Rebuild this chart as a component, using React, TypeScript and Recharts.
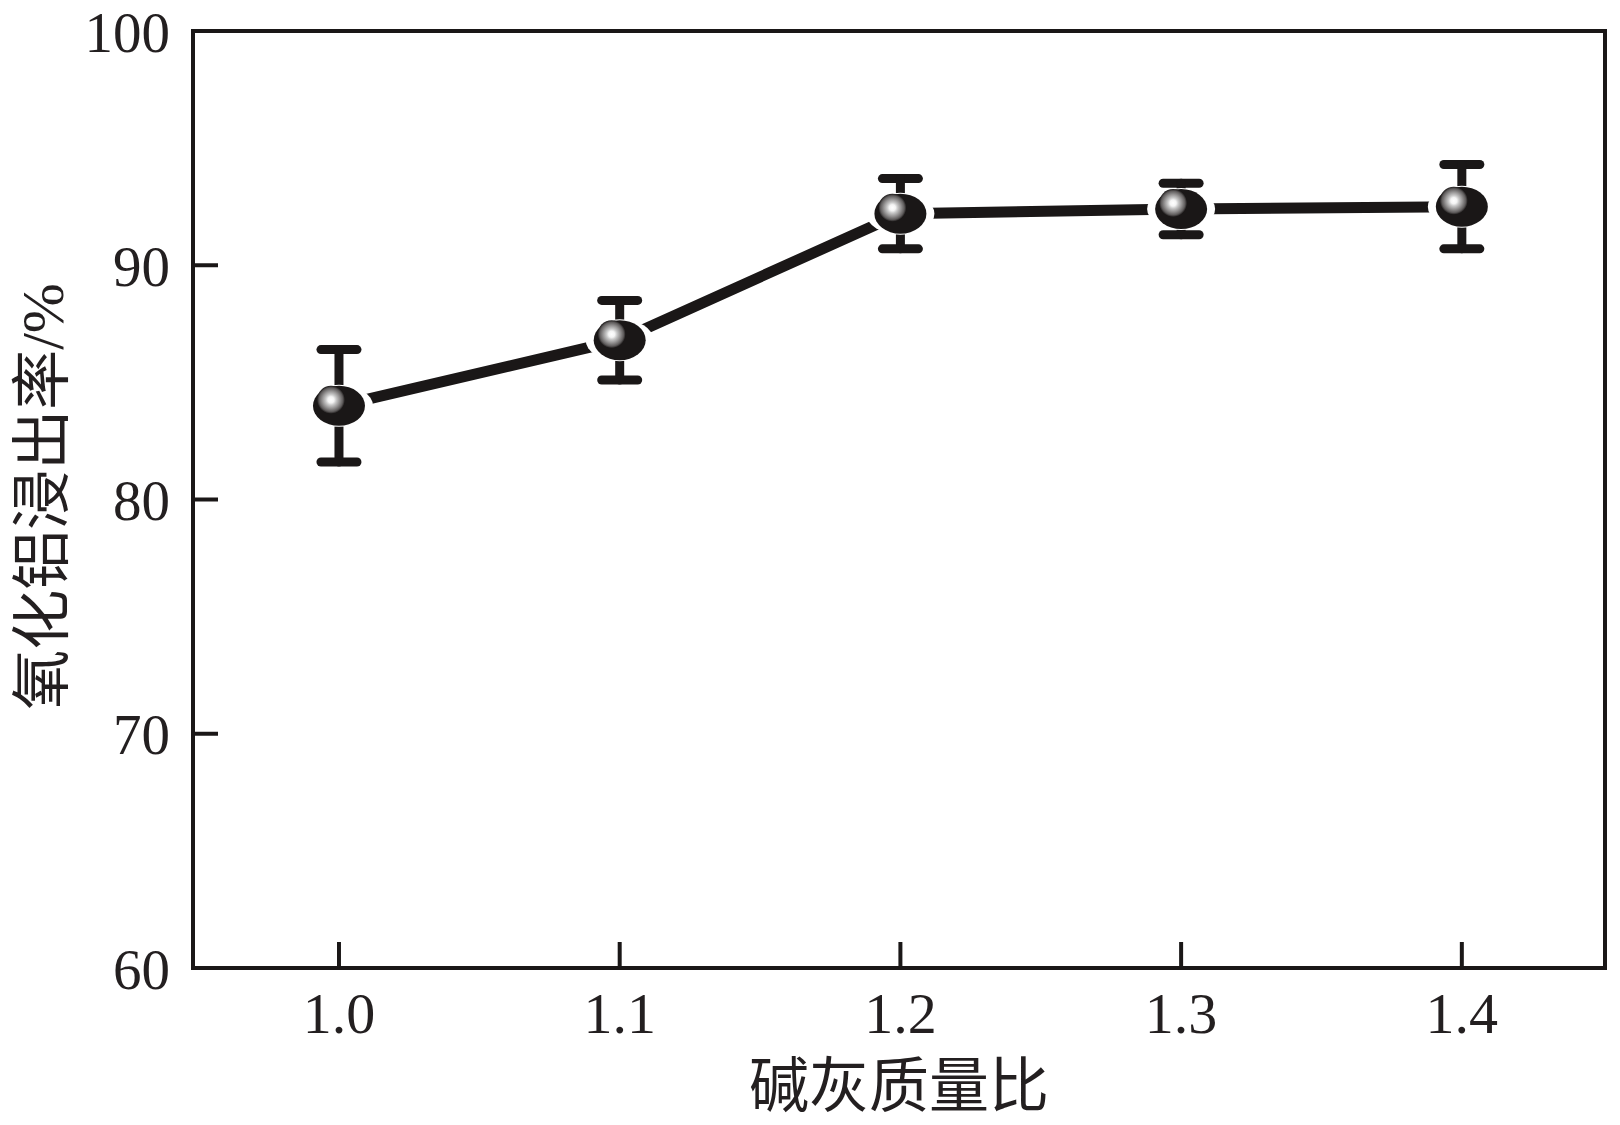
import React from "react";
import { LineChart, Line, XAxis, YAxis, ErrorBar, ReferenceArea, Label } from "recharts";

// alkali-to-ash mass ratio vs alumina leaching rate
const ratios = [1.0, 1.1, 1.2, 1.3, 1.4];
const leachRate = [84.0, 86.8, 92.2, 92.4, 92.5];
const rateError = [2.4, 1.7, 1.5, 1.1, 1.8];
const xTicks = [1.0, 1.1, 1.2, 1.3, 1.4];
const yTicks = [60, 70, 80, 90, 100];
const xDomain = [0.948, 1.451];
const yDomain = [60, 100];

const data = ratios.map((r, i) => ({ ratio: r, rate: leachRate[i], err: rateError[i] }));

const INK = "#1a1717";
const TEXT = "#231f20";
const SERIF = "'Liberation Serif', 'Noto Sans CJK SC', serif";

function XTick({ x, y, payload }: any) {
  return (
    <g>
      <line x1={x} x2={x} y1={y} y2={y - 26} stroke={INK} strokeWidth={4} />
      <text x={x} y={y + 65} textAnchor="middle" fontFamily={SERIF} fontSize={58} fill={TEXT}>
        {Number(payload.value).toFixed(1)}
      </text>
    </g>
  );
}

function YTick({ x, y, payload }: any) {
  return (
    <g>
      <line x1={x} x2={x + 25} y1={y} y2={y} stroke={INK} strokeWidth={4} />
      <text x={x - 23} y={y + 20.5} textAnchor="end" fontFamily={SERIF} fontSize={57} fill={TEXT}>
        {payload.value}
      </text>
    </g>
  );
}

// white gap between the connecting line and each marker
function Halo({ cx, cy }: any) {
  return <ellipse cx={cx} cy={cy} rx={34} ry={21} fill="#ffffff" />;
}

function Ball({ cx, cy, index }: any) {
  const id = `ball-hi-${index}`;
  return (
    <g>
      <defs>
        <radialGradient id={id} cx="50%" cy="50%" r="50%">
          <stop offset="0%" stopColor="#ffffff" />
          <stop offset="22%" stopColor="#f4f4f4" />
          <stop offset="38%" stopColor="#c8c8c8" />
          <stop offset="62%" stopColor="#949292" />
          <stop offset="85%" stopColor="#5e5b5b" />
          <stop offset="100%" stopColor={INK} />
        </radialGradient>
      </defs>
      <ellipse cx={cx} cy={cy} rx={26} ry={20} fill={INK} />
      <circle cx={cx - 8} cy={cy - 6} r={14} fill={`url(#${id})`} />
    </g>
  );
}

function XTitle({ viewBox }: any) {
  const cx = viewBox.x + viewBox.width / 2;
  return (
    <text x={cx} y={viewBox.y + 139} textAnchor="middle" fontFamily={SERIF} fontSize={60} fill={TEXT}>
      碱灰质量比
    </text>
  );
}

function YTitle({ viewBox }: any) {
  const cx = viewBox.x + 21;
  const cy = viewBox.y + viewBox.height / 2 - 3;
  return (
    <text
      x={cx}
      y={cy}
      dy={22}
      transform={`rotate(-90 ${cx} ${cy})`}
      textAnchor="middle"
      fontFamily={SERIF}
      fontSize={60}
      fill={TEXT}
    >
      氧化铝浸出率/%
    </text>
  );
}

export default function App() {
  return (
    <div style={{ position: "absolute", left: 0, top: 0, width: 1620, height: 1125, background: "#fff" }}>
      <LineChart width={1620} height={1125} data={data} margin={{ top: 31, right: 15, bottom: 77, left: 20 }}>
        <XAxis
          dataKey="ratio"
          type="number"
          domain={xDomain}
          ticks={xTicks}
          axisLine={false}
          tickLine={false}
          tickSize={0}
          tickMargin={0}
          height={80}
          tick={<XTick />}
          interval={0}
        >
          <Label content={<XTitle />} />
        </XAxis>
        <YAxis
          type="number"
          domain={yDomain}
          ticks={yTicks}
          axisLine={false}
          tickLine={false}
          tickSize={0}
          tickMargin={0}
          width={173}
          tick={<YTick />}
          interval={0}
        >
          <Label content={<YTitle />} />
        </YAxis>
        <ReferenceArea
          x1={xDomain[0]}
          x2={xDomain[1]}
          y1={yDomain[0]}
          y2={yDomain[1]}
          fill="none"
          stroke={INK}
          strokeWidth={4}
          ifOverflow="visible"
        />
        <Line
          dataKey="rate"
          stroke={INK}
          strokeWidth={11}
          strokeLinecap="round"
          dot={(p: any) => <Halo key={`halo-${p.index}`} {...p} />}
          activeDot={false}
          isAnimationActive={false}
        />
        <Line dataKey="rate" stroke="none" dot={false} activeDot={false} isAnimationActive={false}>
          <ErrorBar
            dataKey="err"
            direction="y"
            width={18}
            stroke={INK}
            strokeWidth={9}
            strokeLinecap="round"
            isAnimationActive={false}
          />
        </Line>
        <Line
          dataKey="rate"
          stroke="none"
          dot={(p: any) => <Ball key={`ball-${p.index}`} {...p} />}
          activeDot={false}
          isAnimationActive={false}
        />
      </LineChart>
    </div>
  );
}
